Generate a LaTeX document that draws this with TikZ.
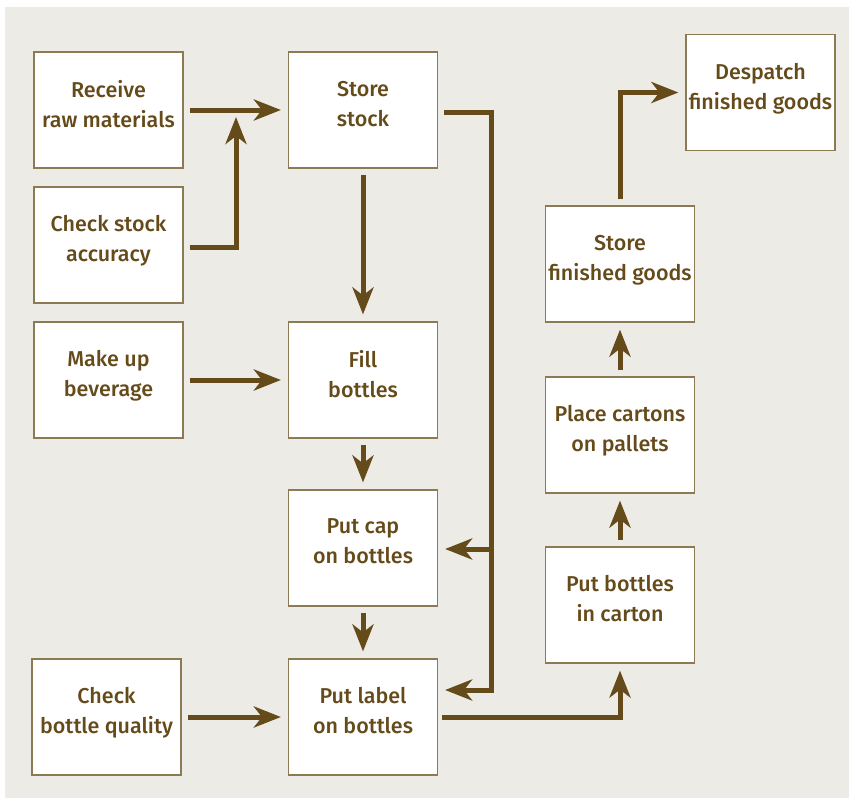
\documentclass[tikz,border=0pt]{standalone}
\usepackage{fontspec}
\setmainfont{Fira Sans}[BoldFont={Fira Sans Medium}]
\usetikzlibrary{arrows.meta}
\definecolor{paper}{HTML}{EDEBE6}
\definecolor{ink}{HTML}{654A1A}
\definecolor{boxline}{HTML}{8C7A55}

\tikzset{
  stepbox/.style={draw=boxline, fill=white, line width=1.2pt,
    minimum width=149pt, minimum height=116pt, inner sep=0pt,
    align=center, text=ink, text depth=13pt,
    font=\fontsize{21.5}{30}\selectfont\bfseries},
  flow/.style={draw=ink, line width=5pt, shorten <=6pt, shorten >=7pt,
    -{Stealth[length=27pt,width=21pt,inset=8pt]}}
}

\begin{document}
\begin{tikzpicture}[x=1pt,y=-1pt]
   \useasboundingbox (0,0) rectangle (849,798);
   \fill[paper] (5,7) rectangle (849,798);
   % left column
   \node[stepbox] (recv)  at (108.5,110) {Receive\\raw materials};
   \node[stepbox] (chk)   at (108.5,245) {Check stock\\accuracy};
   \node[stepbox] (mkup)  at (108.5,380) {Make up\\beverage};
   \node[stepbox] (qual)  at (106.5,717) {Check\\bottle quality};
   % middle column
   \node[stepbox] (store) at (363,110) {Store\\stock};
   \node[stepbox] (fill)  at (363,380) {Fill\\bottles};
   \node[stepbox] (cap)   at (363,548) {Put cap\\on bottles};
   \node[stepbox] (label) at (363,717) {Put label\\on bottles};
   % right column
   \node[stepbox] (carton) at (620,605) {Put bottles\\in carton};
   \node[stepbox] (pallet) at (620,435) {Place cartons\\on pallets};
   \node[stepbox] (sfg)    at (620,264) {Store\\finished goods};
   \node[stepbox] (desp)   at (760.5,92.5) {Despatch\\finished goods};
   \coordinate (join) at (236,110);
   \coordinate (tap)  at (490,549);
   \coordinate (labin) at ([yshift=27pt]label.east);
   % connectors
   \draw[flow] (recv) -- (store);
   \draw[flow] ([yshift=-2pt]chk.east) -| (join);
   \draw[flow] (store) -- (fill);
   \draw[flow] (mkup) -- (fill);
   \draw[flow] (fill) -- (cap);
   \draw[flow] (cap) -- (label);
   \draw[flow] (qual) -- (label);
   \draw[flow] ([yshift=-2pt]store.east) -- ++(53,0) |- (labin);
   \draw[flow, shorten <=0pt] (tap) -- (tap -| cap.east);
   \draw[flow, shorten <=4pt] (label.east) -| (carton.south);
   \draw[flow] (carton) -- (pallet);
   \draw[flow] (pallet) -- (sfg);
   \draw[flow] (sfg.north) |- (desp.west);
\end{tikzpicture}
\end{document}
